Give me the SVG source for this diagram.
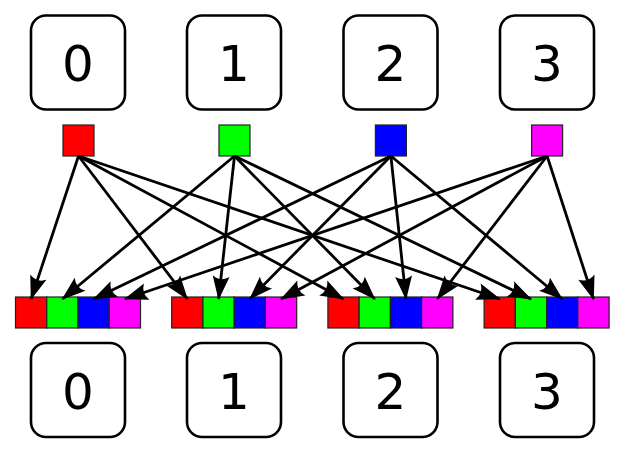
<svg xmlns="http://www.w3.org/2000/svg" width="625" height="453" viewBox="0 0 625 453">
<defs>
<style>
.box{fill:#fff;stroke:#000;stroke-width:2.6}
.lbl{font-family:"DejaVu Sans",sans-serif;font-size:50px;text-anchor:middle;fill:#000}
.sq{stroke:#222;stroke-width:1.2}
.r{fill:#ff0000}.g{fill:#00ff00}.b{fill:#0000ff}.m{fill:#ff00ff}
</style>
<marker id="ah" markerUnits="userSpaceOnUse" markerWidth="30" markerHeight="20" refX="26" refY="10" orient="auto" overflow="visible">
<path d="M27,10 L3,1.5 Q9,10 3,18.5 Z" fill="#000"/>
</marker>
</defs>
<rect width="625" height="453" fill="#fff"/>
<g id="top-nodes">
<g id="top0"><rect class="box" x="31" y="15.5" width="94" height="94" rx="15"/><text class="lbl" x="78" y="81">0</text></g>
<g id="top1"><rect class="box" x="187" y="15.5" width="94" height="94" rx="15"/><text class="lbl" x="234" y="81">1</text></g>
<g id="top2"><rect class="box" x="343.5" y="15.5" width="94" height="94" rx="15"/><text class="lbl" x="390.5" y="81">2</text></g>
<g id="top3"><rect class="box" x="500" y="15.5" width="94" height="94" rx="15"/><text class="lbl" x="547" y="81">3</text></g>
</g>
<g id="sources">
<rect id="src0" class="sq r" x="63" y="125" width="31" height="31"/>
<rect id="src1" class="sq g" x="219" y="125" width="31" height="31"/>
<rect id="src2" class="sq b" x="375.4" y="125" width="31" height="31"/>
<rect id="src3" class="sq m" x="531.6" y="125" width="31" height="31"/>
</g>
<g id="arrays">
<g id="arr0">
<rect class="sq r" x="15.5" y="297" width="31.25" height="31"/>
<rect class="sq g" x="46.75" y="297" width="31.25" height="31"/>
<rect class="sq b" x="78" y="297" width="31.25" height="31"/>
<rect class="sq m" x="109.25" y="297" width="31.25" height="31"/>
</g>
<g id="arr1">
<rect class="sq r" x="171.7" y="297" width="31.25" height="31"/>
<rect class="sq g" x="202.95" y="297" width="31.25" height="31"/>
<rect class="sq b" x="234.2" y="297" width="31.25" height="31"/>
<rect class="sq m" x="265.45" y="297" width="31.25" height="31"/>
</g>
<g id="arr2">
<rect class="sq r" x="327.9" y="297" width="31.25" height="31"/>
<rect class="sq g" x="359.15" y="297" width="31.25" height="31"/>
<rect class="sq b" x="390.4" y="297" width="31.25" height="31"/>
<rect class="sq m" x="421.65" y="297" width="31.25" height="31"/>
</g>
<g id="arr3">
<rect class="sq r" x="484.1" y="297" width="31.25" height="31"/>
<rect class="sq g" x="515.35" y="297" width="31.25" height="31"/>
<rect class="sq b" x="546.6" y="297" width="31.25" height="31"/>
<rect class="sq m" x="577.85" y="297" width="31.25" height="31"/>
</g>
</g>
<g id="connectors" stroke="#000" stroke-width="2.8" fill="none" marker-end="url(#ah)">
<path d="M78.5,156 L31.1,299"/>
<path d="M78.5,156 L187.3,299"/>
<path d="M78.5,156 L343.5,299"/>
<path d="M78.5,156 L499.7,299"/>
<path d="M234.5,156 L62.4,299"/>
<path d="M234.5,156 L218.6,299"/>
<path d="M234.5,156 L374.8,299"/>
<path d="M234.5,156 L531,299"/>
<path d="M390.9,156 L93.6,299"/>
<path d="M390.9,156 L249.8,299"/>
<path d="M390.9,156 L406,299"/>
<path d="M390.9,156 L562.2,299"/>
<path d="M547.1,156 L124.9,299"/>
<path d="M547.1,156 L281.1,299"/>
<path d="M547.1,156 L437.3,299"/>
<path d="M547.1,156 L593.5,299"/>
</g>
<g id="bottom-nodes">
<g id="bot0"><rect class="box" x="31" y="343" width="94" height="94" rx="15"/><text class="lbl" x="78" y="409">0</text></g>
<g id="bot1"><rect class="box" x="187" y="343" width="94" height="94" rx="15"/><text class="lbl" x="234" y="409">1</text></g>
<g id="bot2"><rect class="box" x="343.5" y="343" width="94" height="94" rx="15"/><text class="lbl" x="390.5" y="409">2</text></g>
<g id="bot3"><rect class="box" x="500" y="343" width="94" height="94" rx="15"/><text class="lbl" x="547" y="409">3</text></g>
</g>
</svg>
